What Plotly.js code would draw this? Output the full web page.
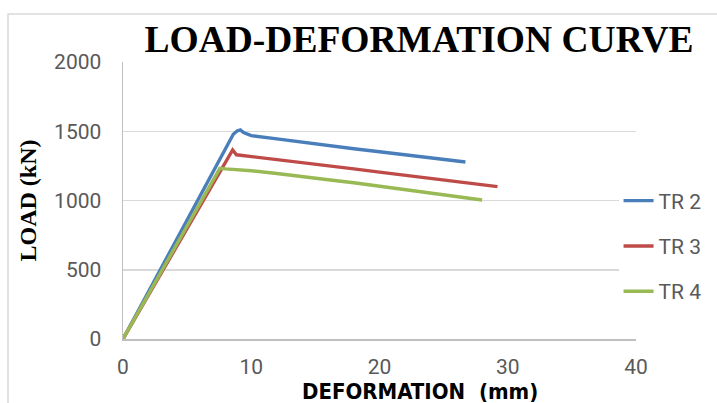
<!DOCTYPE html>
<html>
<head>
<meta charset="utf-8">
<script src="https://cdn.plot.ly/plotly-3.0.1.min.js"></script>
<style>html,body{margin:0;padding:0;background:#fff;}#chart{width:717px;height:403px;}</style>
</head>
<body>
<div id="chart"></div>
<script>
const seriesNames = ["TR 2", "TR 3", "TR 4"];
const seriesColors = ["#4a7ebb", "#be4b48", "#98b954"];

const tr2X = [0, 8.2, 8.6, 8.9, 9.15, 9.4, 9.7, 10, 12, 14, 16, 18, 20, 22, 24, 26.7];
const tr2Y = [0, 1420, 1478, 1502, 1510, 1490, 1476, 1468, 1445, 1420, 1397, 1374, 1352, 1330, 1308, 1278];

const tr3X = [0, 8.55, 8.85, 10, 12, 14, 16, 18, 20, 22, 24, 26, 28, 29.2];
const tr3Y = [0, 1365, 1330, 1318, 1297, 1275, 1252, 1228, 1205, 1182, 1158, 1135, 1112, 1100];

const tr4X = [0, 7.55, 8, 10, 12, 14, 16, 18, 20, 22, 24, 26, 28];
const tr4Y = [0, 1232, 1228, 1215, 1195, 1175, 1150, 1128, 1103, 1078, 1058, 1030, 1004];

const xTicks = [0, 10, 20, 30, 40];
const yTicks = [0, 500, 1000, 1500, 2000];

const xs = [tr2X, tr3X, tr4X];
const ys = [tr2Y, tr3Y, tr4Y];

const traces = seriesNames.map((n, i) => ({
  type: "scatter", mode: "lines", name: n,
  x: xs[i], y: ys[i], legendgroup: "g" + i,
  line: {color: seriesColors[i], width: 3.4}
}));

const tickFont = {family: "Roboto, 'Liberation Sans', sans-serif", size: 21, color: "#595959"};

const layout = {
  width: 717, height: 403,
  margin: {l: 123, r: 81, t: 62, b: 64, autoexpand: false},
  paper_bgcolor: "#ffffff", plot_bgcolor: "#ffffff",
  showlegend: true,
  title: {
    text: "<b>LOAD-DEFORMATION CURVE</b>",
    font: {family: "'Liberation Serif', 'Times New Roman', serif", size: 37.5, color: "#000"},
    xref: "paper", x: 0.577, xanchor: "center",
    yref: "container", y: 1 - 39/403, yanchor: "middle"
  },
  xaxis: {
    range: [0, 40], tickvals: xTicks, ticktext: xTicks.map(String),
    showgrid: false, zeroline: false,
    showline: true, linecolor: "#bfbfbf", linewidth: 1.5,
    ticks: "", tickfont: tickFont, ticklabelstandoff: 8,
    fixedrange: true
  },
  yaxis: {
    range: [0, 2000], tickvals: yTicks, ticktext: yTicks.map(String),
    showgrid: true, gridcolor: "#d9d9d9", gridwidth: 1.5, zeroline: false,
    showline: true, linecolor: "#bfbfbf", linewidth: 1.5,
    ticks: "", tickfont: tickFont, ticklabelstandoff: 16,
    title: {text: "<b>LOAD (kN)</b>", font: {family: "'Liberation Serif', 'Times New Roman', serif", size: 24, color: "#000"}, standoff: 10},
    fixedrange: true
  },
  annotations: [{
    text: "<b>DEFORMATION  (mm)</b>",
    xref: "paper", yref: "paper",
    x: (420 - 123) / 513, y: (339 - 391) / 277,
    xanchor: "center", yanchor: "middle", showarrow: false,
    font: {family: "'DejaVu Sans Condensed', 'Liberation Sans Narrow', sans-serif", size: 22, color: "#000"}
  }],
  legend: {
    x: 0.966, xanchor: "left", y: (339 - 246) / 277, yanchor: "middle",
    bgcolor: "rgba(255,255,255,1)", borderwidth: 0,
    font: tickFont, traceorder: "grouped", tracegroupgap: 15,
    itemwidth: 30
  },
  shapes: [{
    type: "rect", xref: "paper", yref: "paper",
    x0: (8 - 123) / 513, x1: 1.5, y0: -0.5, y1: (339 - 14) / 277,
    line: {color: "#d9d9d9", width: 1.5}, fillcolor: "rgba(0,0,0,0)", layer: "below"
  }]
};

Plotly.newPlot("chart", traces, layout, {displayModeBar: false, staticPlot: true});
</script>
</body>
</html>
